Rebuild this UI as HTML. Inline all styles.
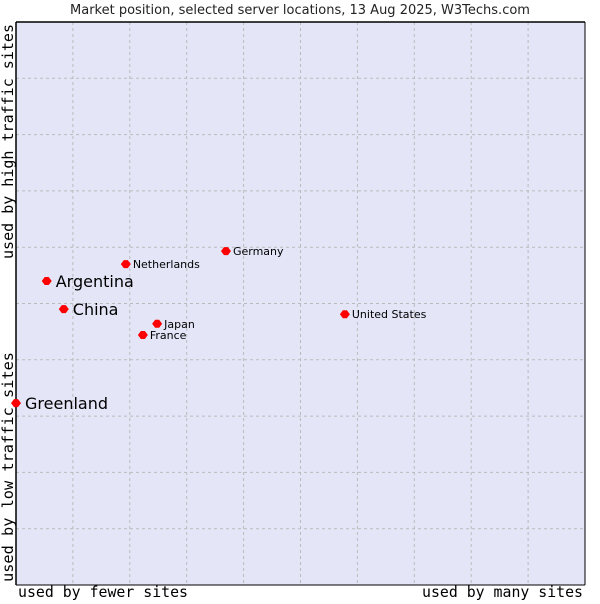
<!DOCTYPE html>
<html><head><meta charset="utf-8"><style>
body{margin:0;background:#fff;width:600px;height:600px;overflow:hidden;font-family:"DejaVu Sans","Liberation Sans",sans-serif}
</style></head><body>
<svg width="600" height="600" xmlns="http://www.w3.org/2000/svg">
<text x="300" y="14" text-anchor="middle" font-size="13" fill="#222" font-family="DejaVu Sans, sans-serif">Market position, selected server locations, 13 Aug 2025, W3Techs.com</text>
<rect x="16" y="22" width="569" height="563" fill="#e4e6f8"/>
<g id="grid"></g>
<line x1="16" y1="22" x2="585" y2="22" stroke="#000" stroke-width="1.5"/>
<line x1="16" y1="22" x2="16" y2="585" stroke="#000" stroke-width="1.5"/>
<line x1="585" y1="22" x2="585" y2="585" stroke="#000" stroke-width="1"/>
<line x1="16" y1="585" x2="585" y2="585" stroke="#000" stroke-width="1"/>
<g id="points"></g>
<text x="18" y="597" font-size="15" textLength="170" lengthAdjust="spacingAndGlyphs" font-family="DejaVu Sans Mono, Liberation Mono, monospace" fill="#000">used by fewer sites</text>
<text x="422" y="597" font-size="15" textLength="161" lengthAdjust="spacingAndGlyphs" font-family="DejaVu Sans Mono, Liberation Mono, monospace" fill="#000">used by many sites</text>
<text transform="translate(13,582) rotate(-90)" font-size="15" textLength="230" lengthAdjust="spacingAndGlyphs" font-family="DejaVu Sans Mono, Liberation Mono, monospace" fill="#000">used by low traffic sites</text>
<text transform="translate(13,259) rotate(-90)" font-size="15" textLength="235" lengthAdjust="spacingAndGlyphs" font-family="DejaVu Sans Mono, Liberation Mono, monospace" fill="#000">used by high traffic sites</text>
</svg>
<script>
const names=["Argentina","China","Greenland","Netherlands","Germany","Japan","France","United States"];
const xVals=[5.4,8.4,0,19.3,36.9,24.8,22.3,57.8];
const yVals=[54.0,49.0,32.3,57.0,59.3,46.4,44.4,48.1];
const big=[true,true,true,false,false,false,false,false];
const ns="http://www.w3.org/2000/svg";
const X0=16,X1=585,Y0=585,Y1=22;
const sx=v=>X0+(X1-X0)*v/100, sy=v=>Y0-(Y0-Y1)*v/100;
const grid=document.getElementById('grid');
for(let i=1;i<10;i++){
 const a=document.createElementNS(ns,'line');
 
 
 a.setAttribute('x1',sx(i*10));a.setAttribute('x2',sx(i*10));a.setAttribute('y1',Y1);a.setAttribute('y2',Y0);
 a.setAttribute('stroke','#bbb');a.setAttribute('stroke-dasharray','3,3');grid.appendChild(a);
 const b=document.createElementNS(ns,'line');
 
 
 b.setAttribute('y1',sy(i*10));b.setAttribute('y2',sy(i*10));b.setAttribute('x1',X0);b.setAttribute('x2',X1);
 b.setAttribute('stroke','#bbb');b.setAttribute('stroke-dasharray','3,3');grid.appendChild(b);
}
const pts=document.getElementById('points');
names.forEach((n,i)=>{
 const x=sx(xVals[i]),y=sy(yVals[i]);
 const d=document.createElementNS(ns,'path');
 
 
 d.setAttribute('d',`M${x-5} ${y}L${x-2} ${y-4}L${x+2} ${y-4}L${x+5} ${y}L${x+2} ${y+4}L${x-2} ${y+4}Z`);
 d.setAttribute('fill','#f00');pts.appendChild(d);
 const t=document.createElementNS(ns,'text');
 
 
 t.setAttribute('x',x+(big[i]?9:7));t.setAttribute('y',y+(big[i]?6:4));
 t.setAttribute('font-size',big[i]?16:11);t.setAttribute('fill','#000');
 t.textContent=n;pts.appendChild(t);
});
</script>
</body></html>
